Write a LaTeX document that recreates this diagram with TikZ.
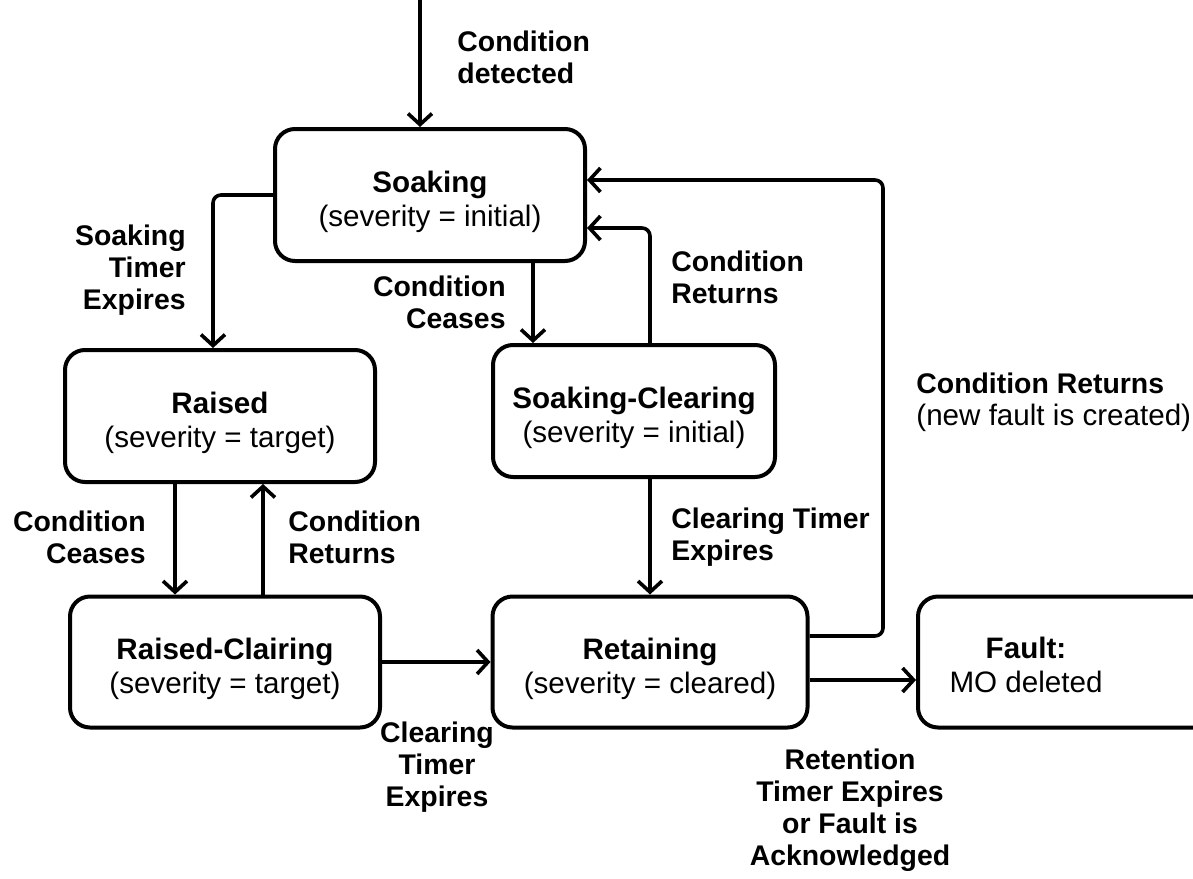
\documentclass[tikz,border=0pt]{standalone}
\usepackage{fontspec}
\setmainfont{Liberation Sans}
\usetikzlibrary{arrows.meta, positioning}

\newcommand{\tallrow}{\rule{0pt}{17.5pt}}

\tikzset{
  state/.style={draw, line width=2pt, rounded corners=10pt, minimum width=155pt,
    minimum height=66pt, align=center, font=\fontsize{14.8}{17}\selectfont},
  lbl/.style={font=\bfseries\fontsize{14.2}{16}\selectfont, inner sep=0pt},
  arr/.style={line width=1.8pt, rounded corners=4pt,
    -{Straight Barb[length=5.5pt,width=12pt,line width=1.8pt]}}
}

\begin{document}
\begin{tikzpicture}[x=0.5pt, y=-0.5pt]
  % frame
  \clip (0,0) rectangle (1193,878);
  % states
  \node[state] (soak) at (430,195) {\tallrow\textbf{Soaking}\\(severity = initial)};
  \node[state] (raised) at (220,416) {\tallrow\textbf{Raised}\\(severity = target)};
  \node[state, minimum width=141pt] (soakclr) at (634,411) {\tallrow\textbf{Soaking-Clearing}\\(severity = initial)};
  \node[state, minimum height=65.5pt] (raisedclr) at (225,662) {\tallrow\textbf{Raised-Clairing}\\(severity = target)};
  \node[state, minimum width=157.5pt, minimum height=65.5pt] (retain) at (650,662) {\tallrow\textbf{Retaining}\\(severity = cleared)};
  \node[state, minimum width=191pt, minimum height=65.5pt] (fault) at (1109,662) {};
  \node[align=center, font=\fontsize{14.8}{17}\selectfont] (faulttxt) at (1026,665) {\textbf{Fault:}\\MO deleted};
  % bends
  \coordinate (start) at (420,0);
  \coordinate (rtcorner) at (883,180);
  % transitions
  \draw[arr] (start) -- (start |- soak.north);
  \draw[arr] (soak.west) -| ([xshift=-3.5pt]raised.north);
  \draw[arr] ([xshift=51.5pt]soak.south) -- ([xshift=51.5pt]soak.south |- soakclr.north);
  \draw[arr] ([xshift=8pt]soakclr.north) |- ([yshift=-16.5pt]soak.east);
  \draw[arr] ([yshift=13pt]retain.east) -| (rtcorner) -- (rtcorner -| soak.east);
  \draw[arr] ([xshift=-22.5pt]raised.south) -- ([xshift=-22.5pt]raised.south |- raisedclr.north);
  \draw[arr] ([xshift=19pt]raisedclr.north) -- ([xshift=19pt]raisedclr.north |- raised.south);
  \draw[arr] (raisedclr.east) -- (retain.west);
  \draw[arr] ([xshift=8pt]soakclr.south) -- ([xshift=8pt]soakclr.south |- retain.north);
  \draw[arr] ([yshift=-9pt]retain.east) -- ([yshift=-9pt]retain.east -| fault.west);
  % labels
  \node[lbl, align=left, anchor=west] (lbdetect) at (457,57) {Condition\\detected};
  \node[lbl, align=right, anchor=east] (lbsoaktimer) at (186,270) {Soaking\\Timer\\Expires};
  \node[lbl, align=right, anchor=east] (lbceases) at (506,302) {Condition\\Ceases};
  \node[lbl, align=left, anchor=west] (lbreturns) at (671,277) {Condition\\Returns};
  \node[lbl, align=left, anchor=west] (lbnewfault) at (916,402) {Condition Returns\\\mdseries\fontsize{14.8}{16}\selectfont(new fault is created)};
  \node[lbl, align=right, anchor=east] (lbrceases) at (146,537) {Condition\\Ceases};
  \node[lbl, align=left, anchor=west] (lbrreturns) at (288,537) {Condition\\Returns};
  \node[lbl, align=left, anchor=west] (lbclrtimer) at (671,537) {Clearing Timer\\Expires};
  \node[lbl, align=center] (lbrclrtimer) at (437,767) {Clearing\\Timer\\Expires};
  \node[lbl, align=center] (lbretention) at (850,810) {Retention\\Timer Expires\\or Fault is\\Acknowledged};
\end{tikzpicture}
\end{document}
